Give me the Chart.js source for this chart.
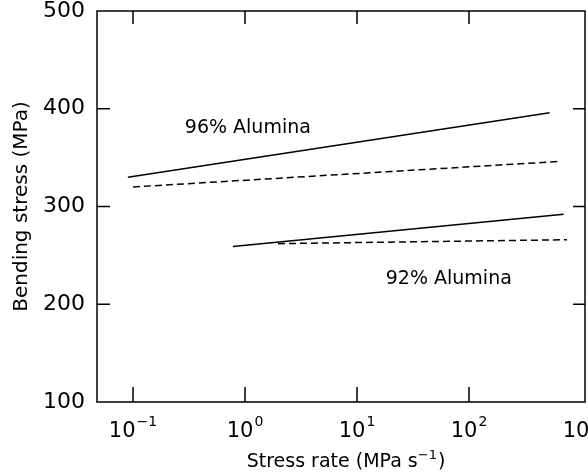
<!DOCTYPE html>
<html>
<head>
<meta charset="utf-8">
<script src="https://cdn.jsdelivr.net/npm/chart.js@4.4.1/dist/chart.umd.min.js"></script>
<style>
  html, body { margin: 0; padding: 0; background: #fff; }
  #wrap { width: 588px; height: 476px; }
</style>
</head>
<body>
<div id="wrap"><canvas id="grafico"></canvas></div>
<script>
// valores
const alumina96Solid = [{ x: 0.09, y: 330 }, { x: 525, y: 396 }];
const alumina96Dashed = [{ x: 0.1, y: 320 }, { x: 620, y: 346 }];
const alumina92Solid = [{ x: 0.78, y: 259 }, { x: 700, y: 292 }];
const alumina92Dashed = [{ x: 1.97, y: 262 }, { x: 750, y: 266 }];

const xTicks = [0.1, 1, 10, 100, 1000];
const xTickExpoentes = ["−1", "0", "1", "2", "3"];
const yTicks = [100, 200, 300, 400, 500];

const rotulos = [
  { texto: "96% Alumina", x: 1.06, y: 380 },
  { texto: "92% Alumina", x: 66, y: 226 },
];

const fonte = "DejaVu Sans";

// caixa, marcas internas, rotulos do eixo x e textos
const caixaPlugin = {
  id: "caixa",
  afterDraw(chart) {
    const ctx = chart.ctx;
    const a = chart.chartArea;
    const sx = chart.scales.x;
    const sy = chart.scales.y;
    ctx.save();
    ctx.strokeStyle = "#000";
    ctx.lineWidth = 1.5;
    ctx.strokeRect(a.left, a.top, a.right - a.left, a.bottom - a.top);

    for (let i = 0; i < xTicks.length - 1; i++) {
      const px = sx.getPixelForValue(xTicks[i]);
      ctx.beginPath();
      ctx.moveTo(px, a.bottom);
      ctx.lineTo(px, a.bottom - 15);
      ctx.moveTo(px, a.top);
      ctx.lineTo(px, a.top + 13);
      ctx.stroke();
    }
    for (let i = 1; i < yTicks.length - 1; i++) {
      const py = sy.getPixelForValue(yTicks[i]);
      ctx.beginPath();
      ctx.moveTo(a.left, py);
      ctx.lineTo(a.left + 13, py);
      ctx.moveTo(a.right, py);
      ctx.lineTo(a.right - 12, py);
      ctx.stroke();
    }

    ctx.fillStyle = "#000";

    // rotulos 10^n (centrados no tick)
    ctx.textBaseline = "alphabetic";
    ctx.textAlign = "left";
    for (let i = 0; i < xTicks.length; i++) {
      const px = sx.getPixelForValue(xTicks[i]);
      ctx.font = "21px '" + fonte + "'";
      const wb = ctx.measureText("10").width;
      ctx.font = "14px '" + fonte + "'";
      const we = ctx.measureText(xTickExpoentes[i]).width;
      const x0 = px - (wb + 1 + we) / 2;
      ctx.font = "21px '" + fonte + "'";
      ctx.fillText("10", x0, a.bottom + 35);
      ctx.font = "14px '" + fonte + "'";
      ctx.fillText(xTickExpoentes[i], x0 + wb + 1, a.bottom + 24);
    }

    // titulo do eixo x
    const partes = [
      { t: "Stress rate (MPa s", f: 19, dy: 0, e: 0 },
      { t: "−1", f: 13, dy: -8, e: 1 },
      { t: ")", f: 19, dy: 0, e: 0 },
    ];
    let total = 0;
    for (const p of partes) {
      ctx.font = p.f + "px '" + fonte + "'";
      total += ctx.measureText(p.t).width + p.e;
    }
    let cx = 346 - total / 2;
    for (const p of partes) {
      ctx.font = p.f + "px '" + fonte + "'";
      ctx.fillText(p.t, cx, a.bottom + 65 + p.dy);
      cx += ctx.measureText(p.t).width + p.e;
    }

    ctx.font = "19px '" + fonte + "'";
    ctx.textAlign = "center";
    ctx.textBaseline = "middle";
    for (let i = 0; i < rotulos.length; i++) {
      ctx.fillText(
        rotulos[i].texto,
        sx.getPixelForValue(rotulos[i].x),
        sy.getPixelForValue(rotulos[i].y),
      );
    }
    ctx.restore();
  },
};

function linha(dados, tracejado) {
  return {
    data: dados,
    borderColor: "#000",
    borderWidth: 1.5,
    borderDash: tracejado ? [7, 4] : [],
    pointRadius: 0,
    fill: false,
  };
}

new Chart(document.getElementById("grafico"), {
  type: "line",
  data: {
    datasets: [
      linha(alumina96Solid, false),
      linha(alumina96Dashed, true),
      linha(alumina92Solid, false),
      linha(alumina92Dashed, true),
    ],
  },
  options: {
    responsive: true,
    maintainAspectRatio: false,
    animation: false,
    layout: { padding: { top: 11, right: 3, left: 0, bottom: 0 } },
    plugins: { legend: { display: false }, tooltip: { enabled: false } },
    scales: {
      x: {
        type: "logarithmic",
        min: 0.0477,
        max: 1086,
        grid: { display: false, drawTicks: false },
        border: { display: false },
        afterBuildTicks: (s) => {
          s.ticks = xTicks.map((v) => ({ value: v }));
        },
        afterFit: (s) => {
          s.height = 74;
          s.paddingLeft = 0;
          s.paddingRight = 0;
        },
        ticks: { display: false },
      },
      y: {
        min: 100,
        max: 500,
        grid: { display: false, drawTicks: false },
        border: { display: false },
        afterBuildTicks: (s) => {
          s.ticks = yTicks.map((v) => ({ value: v }));
        },
        afterFit: (s) => {
          s.width = 97;
          s.paddingTop = 0;
          s.paddingBottom = 0;
        },
        ticks: {
          padding: 12,
          color: "#000",
          font: { family: fonte, size: 22 },
        },
        title: {
          display: true,
          text: "Bending stress (MPa)",
          color: "#000",
          font: { family: fonte, size: 20 },
          padding: { top: 10, bottom: 0 },
        },
      },
    },
  },
  plugins: [caixaPlugin],
});
</script>
</body>
</html>
